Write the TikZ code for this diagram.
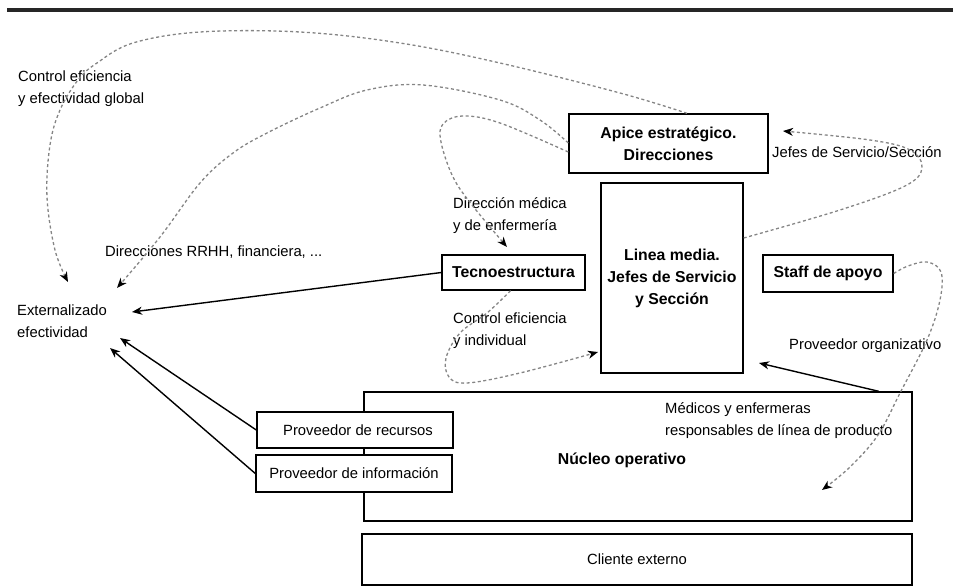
\documentclass[tikz,border=0pt]{standalone}
\usepackage{fontspec}
\setmainfont{Liberation Sans}
\usetikzlibrary{arrows.meta,calc}

\tikzset{
  lbl/.style={inner sep=0pt, font=\fontsize{14.8}{22}\selectfont, align=left, text=black},
  boldlbl/.style={inner sep=0pt, font=\fontsize{15.8}{22}\selectfont\bfseries, align=center},
  box/.style={draw=black, line width=1.4pt, fill=white, inner sep=0pt,
    font=\fontsize{15.8}{22}\selectfont\bfseries, align=center},
  plainbox/.style={box, font=\fontsize{14.8}{22}\selectfont},
  solidarrow/.style={draw=black, line width=1.4pt, -{Stealth[length=10pt, width=8pt, inset=3pt]}},
  dotarrow/.style={draw=black!48, line width=1.3pt, dash pattern=on 3pt off 2.6pt,
    -{Stealth[length=10pt, width=8pt, inset=3pt, color=black]}},
}

\begin{document}
\begin{tikzpicture}[x=1pt, y=-1pt]
\useasboundingbox (0,0) rectangle (953,586);

% heading rule
\draw[line width=4pt, black!85] (7,10) -- (953,10);

% organisational parts
\node[box, minimum width=548pt, minimum height=129pt] (nucleo) at (638,456.5) {};
\node[boldlbl] (nucleotxt) at (622,460) {Núcleo operativo};
\node[box, minimum width=199pt, minimum height=59pt] (apice) at (668.5,143.5) {Apice estratégico.\\Direcciones};
\node[box, minimum width=142pt, minimum height=190pt] (linea) at (672,278) {Linea media.\\Jefes de Servicio\\y Sección};
\node[box, minimum width=143pt, minimum height=35pt] (tecno) at (513.5,272.5) {Tecnoestructura};
\node[box, minimum width=130pt, minimum height=37pt] (staff) at (828,273.5) {Staff de apoyo};
\node[plainbox, minimum width=196pt, minimum height=36pt] (recursos) at (355,430) {\hspace*{6pt}Proveedor de recursos};
\node[plainbox, minimum width=196pt, minimum height=37pt] (informacion) at (354,473.5) {Proveedor de información};
\node[plainbox, minimum width=550pt, minimum height=51pt] (cliente) at (637,559.5) {Cliente externo};

% labels
\node[lbl, anchor=west] (ctrlglobal) at (18,89) {Control eficiencia\\y efectividad global};
\node[lbl, anchor=west] (externo) at (17,321) {Externalizado\\efectividad};
\node[lbl, anchor=west] (rrhh) at (105,252) {Direcciones RRHH, financiera, ...};
\node[lbl, anchor=west] (dirmed) at (453,216) {Dirección médica\\y de enfermería};
\node[lbl, anchor=west] (ctrlind) at (453,331) {Control eficiencia\\y individual};
\node[lbl, anchor=west] (jefes) at (772,152) {Jefes de Servicio/Sección};
\node[lbl, anchor=west] (provorg) at (789,346) {Proveedor organizativo};
\node[lbl, anchor=west] (medicos) at (665,420.5) {Médicos y enfermeras\\responsables de línea de producto};

% free ends of the connectors
\coordinate (extTecno) at (132,312);
\coordinate (extRec) at (120,338);
\coordinate (extInf) at (110,348);
\coordinate (lineaIn) at (759,363);
\coordinate (extGlobal) at (68,282);
\coordinate (extRRHH) at (117,288);
\coordinate (tecnoIn) at (507,247);
\coordinate (apiceIn) at (783,131);
\coordinate (nucleoIn) at (822,490);
\coordinate (lineaLeft) at (598,352);

\coordinate (aStart) at ($(apice.north)+(18.5,0)$);
\coordinate (bStart) at ($(apice.west)+(0,-0.5)$);
\coordinate (cStart) at ($(apice.west)+(0,8.5)$);
\coordinate (dStart) at ($(linea.east)+(0,-40)$);
\coordinate (fStart) at ($(tecno.south)+(-3,0)$);

% solid flows
\draw[solidarrow] (tecno.west) -- (extTecno);
\draw[solidarrow] (recursos.west) -- (extRec);
\draw[solidarrow] (informacion.west) -- (extInf);
\draw[solidarrow] ($(nucleo.north east)+(-34,0)$) -- (lineaIn);

% dashed control flows
\draw[dotarrow] plot[smooth, tension=0.6] coordinates {
  (aStart) (620,93) (500,63) (400,43) (300,32) (200,32) (133,43) (97,63)
  (78,80) (60,110) (50,145) (47,197) (55,250) (extGlobal)};
\draw[dotarrow] plot[smooth, tension=0.6] coordinates {
  (bStart) (540,120) (500,100) (423,85) (367,90) (320,108) (267,133)
  (233,153) (200,183) (160,237) (extRRHH)};
\draw[dotarrow] plot[smooth, tension=0.6] coordinates {
  (cStart) (500,123) (463,116) (443,124) (441,142) (453,177) (472,205) (tecnoIn)};
\draw[dotarrow] plot[smooth, tension=0.6] coordinates {
  (dStart) (840,210) (905,186) (922,168) (910,150) (870,140) (apiceIn)};
\draw[dotarrow] plot[smooth, tension=0.6] coordinates {
  (staff.east) (908,266) (927,262) (941,272) (940,300) (927,340) (900,393)
  (878,435) (850,467) (nucleoIn)};
\draw[dotarrow] plot[smooth, tension=0.6] coordinates {
  (fStart) (487,313) (460,333) (446,358) (449,377) (467,383) (520,373) (lineaLeft)};

\end{tikzpicture}
\end{document}
